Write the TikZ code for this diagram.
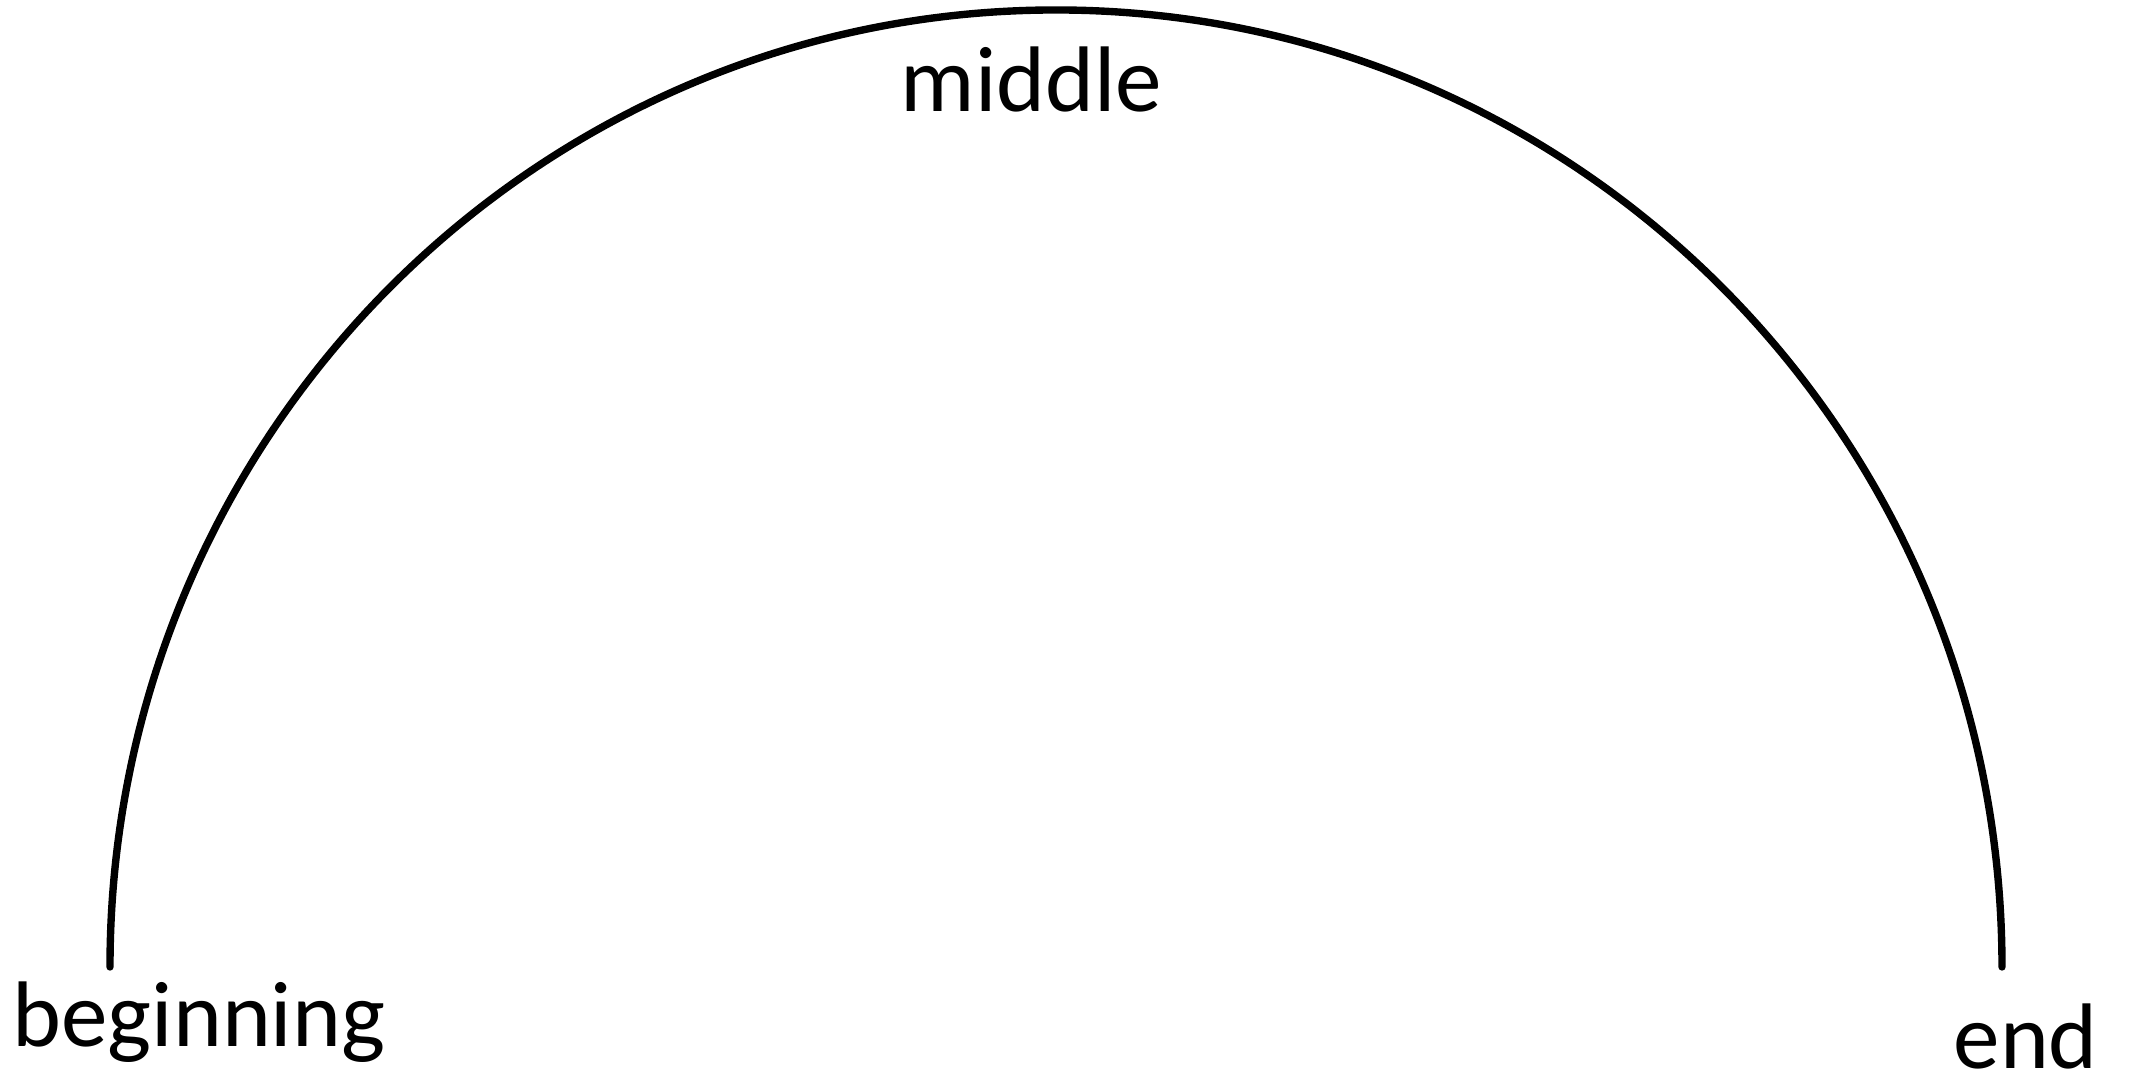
\documentclass[tikz,border=0pt]{standalone}
\usepackage{fontspec}
\setmainfont{Carlito}
\usetikzlibrary{positioning}

\tikzset{
  label text/.style={font=\fontsize{26.5}{32}\selectfont, inner sep=0pt, anchor=base west},
  story arc/.style={line width=2.1pt, line cap=round}
}

\begin{document}
\begin{tikzpicture}
  \useasboundingbox (0,0) rectangle (21.32,10.78);
  % the arc
  \coordinate (start) at (1.10,1.11);
  \draw[story arc] (start) arc[start angle=180, end angle=0, x radius=9.46cm, y radius=9.57cm];
  % labels
  \node[label text] (beginning) at (0.12,0.31) {beginning};
  \node[label text] (middle) at (9.00,9.66) {middle};
  \node[label text] (end) at (19.53,0.09) {end};
\end{tikzpicture}
\end{document}
